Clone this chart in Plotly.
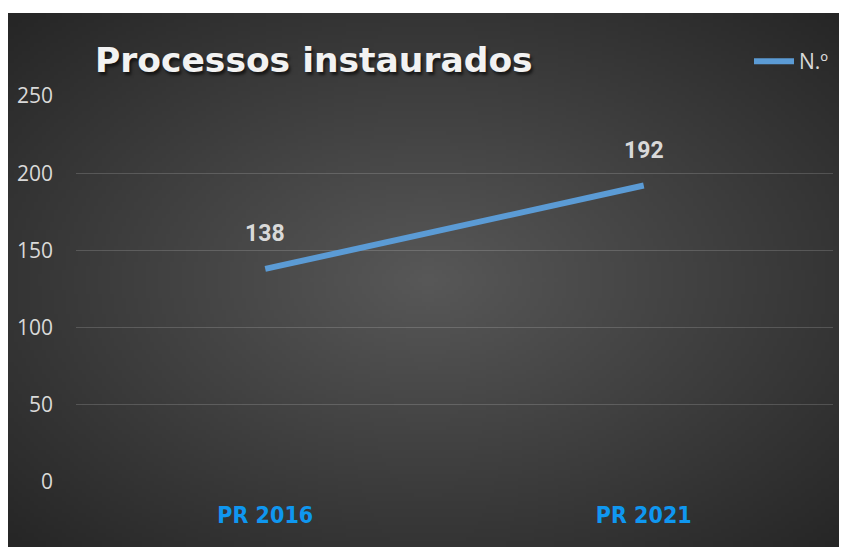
import base64, struct, zlib
import numpy as np
import plotly.graph_objects as go

categories = ["PR 2016", "PR 2021"]
values = [138, 192]
series_name = "N.º"
title_text = "Processos instaurados"
y_ticks = [0, 50, 100, 150, 200, 250]

W, H = 839, 539

def gradient_png(w=210, h=134, center=(88, 88, 88), edge=(38, 38, 38)):
    xs = np.linspace(-1, 1, w)
    ys = np.linspace(-1, 1, h)
    X, Y = np.meshgrid(xs, ys)
    t = np.clip(np.sqrt(X**2 + Y**2) / np.sqrt(2), 0, 1)
    img = np.zeros((h, w, 3), dtype=np.uint8)
    for i in range(3):
        img[..., i] = (center[i] * (1 - t) + edge[i] * t).astype(np.uint8)
    raw = b"".join(b"\x00" + img[r].tobytes() for r in range(h))
    def chunk(tag, data):
        c = struct.pack(">I", len(data)) + tag + data
        return c + struct.pack(">I", zlib.crc32(tag + data) & 0xffffffff)
    png = b"\x89PNG\r\n\x1a\n" + chunk(b"IHDR", struct.pack(">IIBBBBB", w, h, 8, 2, 0, 0, 0)) \
        + chunk(b"IDAT", zlib.compress(raw, 9)) + chunk(b"IEND", b"")
    return "data:image/png;base64," + base64.b64encode(png).decode()

fig = go.Figure()
fig.add_trace(go.Scatter(
    x=categories, y=values, mode="lines", name=series_name,
    line=dict(color="#5b9bd5", width=6),
    hoverinfo="skip",
))

for c, v in zip(categories, values):
    fig.add_annotation(x=c, y=v, text=f"<b>{v}</b>", showarrow=False, yshift=35,
                       font=dict(family="Roboto", size=23, color="#d9d9d9"))

fig.add_annotation(xref="paper", yref="paper", x=85 / W, y=1 - 52 / H,
                   xanchor="left", yanchor="middle", showarrow=False,
                   text=f"<b>{title_text}</b>",
                   font=dict(family="DejaVu Sans", size=34.5, color="#f2f2f2",
                             shadow="2px 3px 3px rgba(0,0,0,0.6)"))

fig.add_layout_image(dict(
    source=gradient_png(), xref="paper", yref="paper",
    x=0, y=1 - 5 / H, sizex=1, sizey=1 - 5 / H,
    xanchor="left", yanchor="top", sizing="stretch", layer="below",
))

fig.update_layout(
    width=W, height=H,
    margin=dict(l=0, r=0, t=0, b=0),
    paper_bgcolor="white",
    plot_bgcolor="rgba(0,0,0,0)",
    showlegend=True,
    legend=dict(x=741 / W, y=1 - 33 / H, xanchor="left", yanchor="top",
                bgcolor="rgba(0,0,0,0)",
                font=dict(family="Open Sans", size=21, color="#d9d9d9"),
                itemwidth=40),
    xaxis=dict(domain=[68 / W, 825 / W], range=[-0.5, 1.5], showgrid=False,
               showline=False, zeroline=False, ticks="", automargin=False,
               tickfont=dict(family="DejaVu Sans Condensed", size=23, color="#0f97f0"),
               ticklabelstandoff=17, tickprefix="<b>", ticksuffix="</b>"),
    yaxis=dict(domain=[65 / H, 451 / H], range=[0, 250],
               tickvals=y_ticks, showgrid=True, gridcolor="rgba(255,255,255,0.16)",
               gridwidth=1.3, zeroline=False, showline=False, ticks="", automargin=False,
               tickfont=dict(family="Open Sans", size=21, color="#d9d9d9"),
               ticklabelstandoff=22),
)

fig.write_html("out.html")
